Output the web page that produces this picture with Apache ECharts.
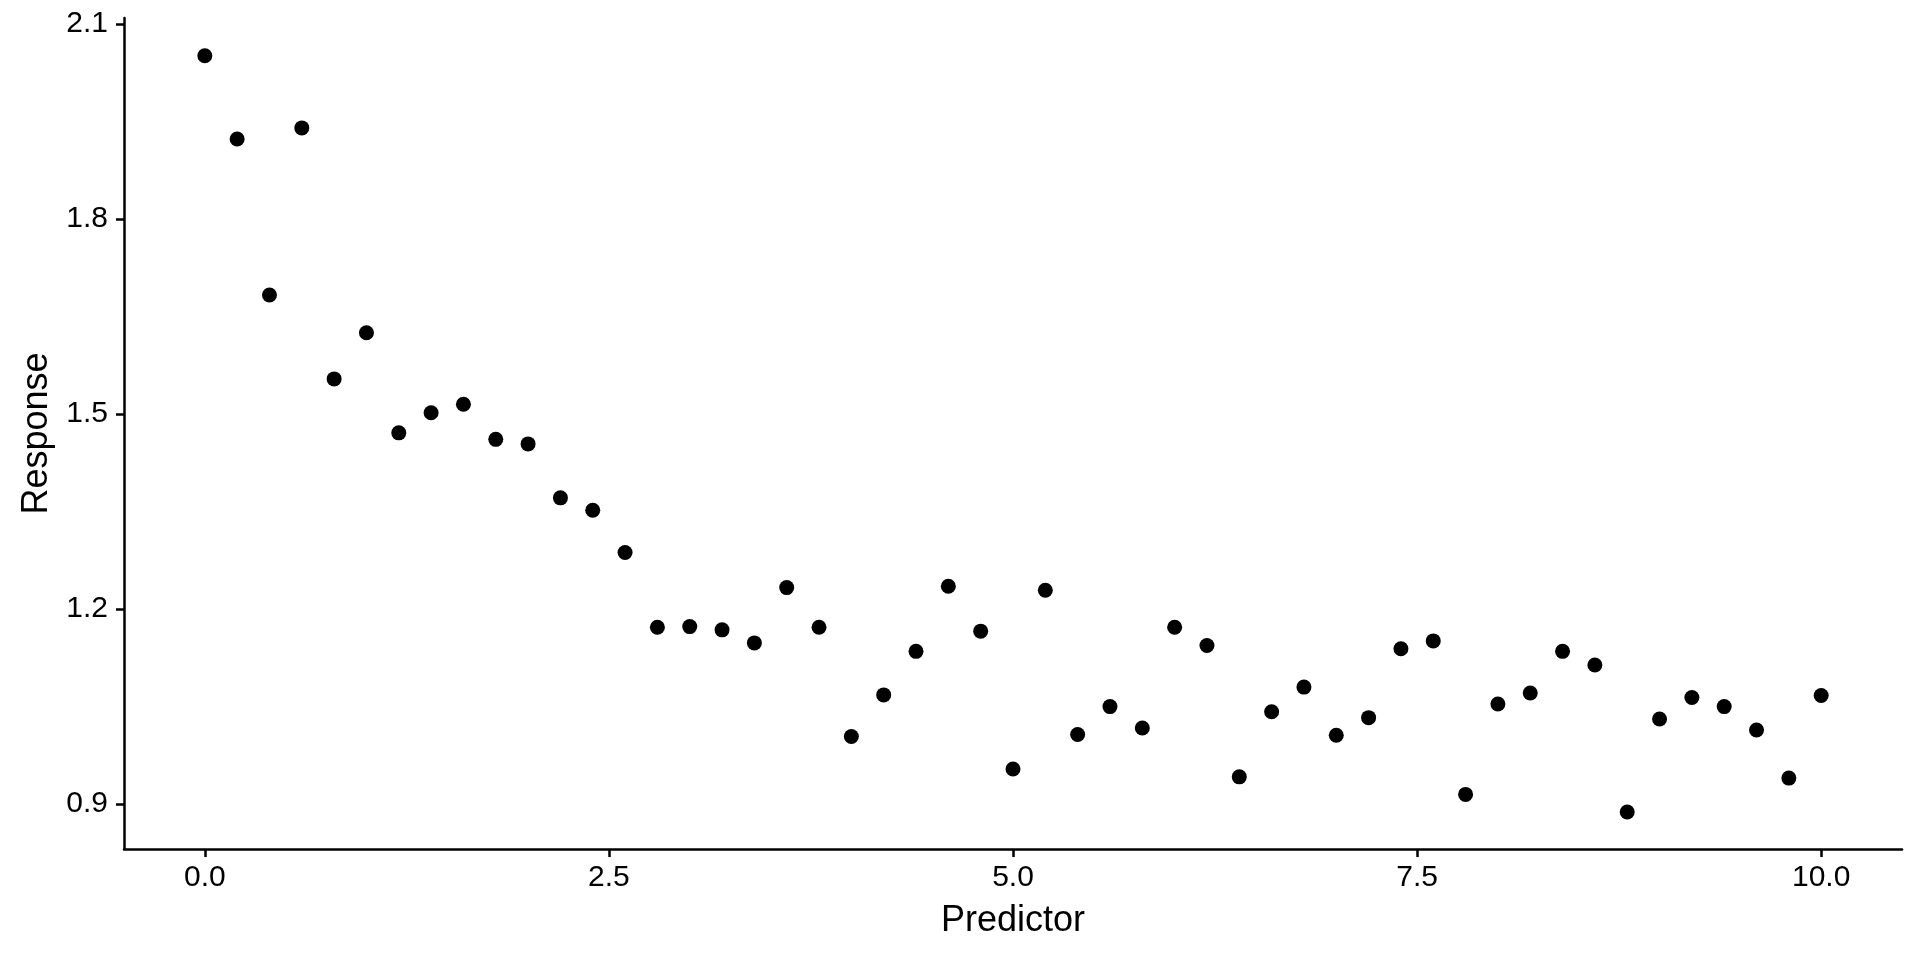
<!DOCTYPE html>
<html>
<head>
<meta charset="utf-8">
<script src="https://cdn.jsdelivr.net/npm/echarts@6/dist/echarts.min.js"></script>
<style>
html,body{margin:0;padding:0;background:#fff;}
#chart{width:1920px;height:960px;}
</style>
</head>
<body>
<div id="chart"></div>
<script>
const predictor = [0.0,0.2,0.4,0.6,0.8,1.0,1.2,1.4,1.6,1.8,2.0,2.2,2.4,2.6,2.8,3.0,3.2,3.4,3.6,3.8,4.0,4.2,4.4,4.6,4.8,5.0,5.2,5.4,5.6,5.8,6.0,6.2,6.4,6.6,6.8,7.0,7.2,7.4,7.6,7.8,8.0,8.2,8.4,8.6,8.8,9.0,9.2,9.4,9.6,9.8,10.0];
const response = [2.051,1.923,1.683,1.940,1.554,1.625,1.471,1.502,1.515,1.461,1.454,1.371,1.352,1.287,1.172,1.173,1.168,1.148,1.233,1.172,1.004,1.068,1.135,1.235,1.166,0.954,1.229,1.007,1.050,1.017,1.172,1.144,0.942,1.042,1.080,1.006,1.033,1.139,1.151,0.915,1.054,1.071,1.135,1.114,0.888,1.031,1.064,1.050,1.014,0.940,1.067];
const xTicks = [0, 2.5, 5, 7.5, 10];
const yTicks = [0.9, 1.2, 1.5, 1.8, 2.1];
const xTitle = 'Predictor';
const yTitle = 'Response';

const font = "'Liberation Sans', Arial, Helvetica, sans-serif";
const chart = echarts.init(document.getElementById('chart'));
const pts = predictor.map((x, i) => [x, response[i]]);
chart.setOption({
  animation: false,
  backgroundColor: '#ffffff',
  grid: {left: 124, right: 18, top: 18, bottom: 111, containLabel: false},
  xAxis: {
    type: 'value', min: -0.5, max: 10.5,
    name: xTitle, nameLocation: 'middle', nameGap: 54,
    nameTextStyle: {fontFamily: font, fontSize: 36, color: '#000'},
    axisLine: {show: true, onZero: false, lineStyle: {color: '#000', width: 2.5}},
    axisTick: {show: true, customValues: xTicks, length: 8, lineStyle: {color: '#000', width: 2.5}},
    axisLabel: {customValues: xTicks, margin: 14, fontFamily: font, fontSize: 30, color: '#000',
      formatter: v => Number(v).toFixed(1)},
    splitLine: {show: false}
  },
  yAxis: {
    type: 'value', min: 0.831, max: 2.109,
    name: yTitle, nameLocation: 'middle', nameGap: 69, nameRotate: 90,
    nameTextStyle: {fontFamily: font, fontSize: 36, color: '#000'},
    axisLine: {show: true, onZero: false, lineStyle: {color: '#000', width: 2.5}},
    axisTick: {show: true, customValues: yTicks, length: 8, lineStyle: {color: '#000', width: 2.5}},
    axisLabel: {customValues: yTicks, margin: 16, fontFamily: font, fontSize: 30, color: '#000',
      formatter: v => Number(v).toFixed(1)},
    splitLine: {show: false}
  },
  series: [{
    type: 'scatter',
    data: pts,
    symbol: 'circle',
    symbolSize: 15,
    itemStyle: {color: '#000', opacity: 1}
  }]
});
</script>
</body>
</html>
